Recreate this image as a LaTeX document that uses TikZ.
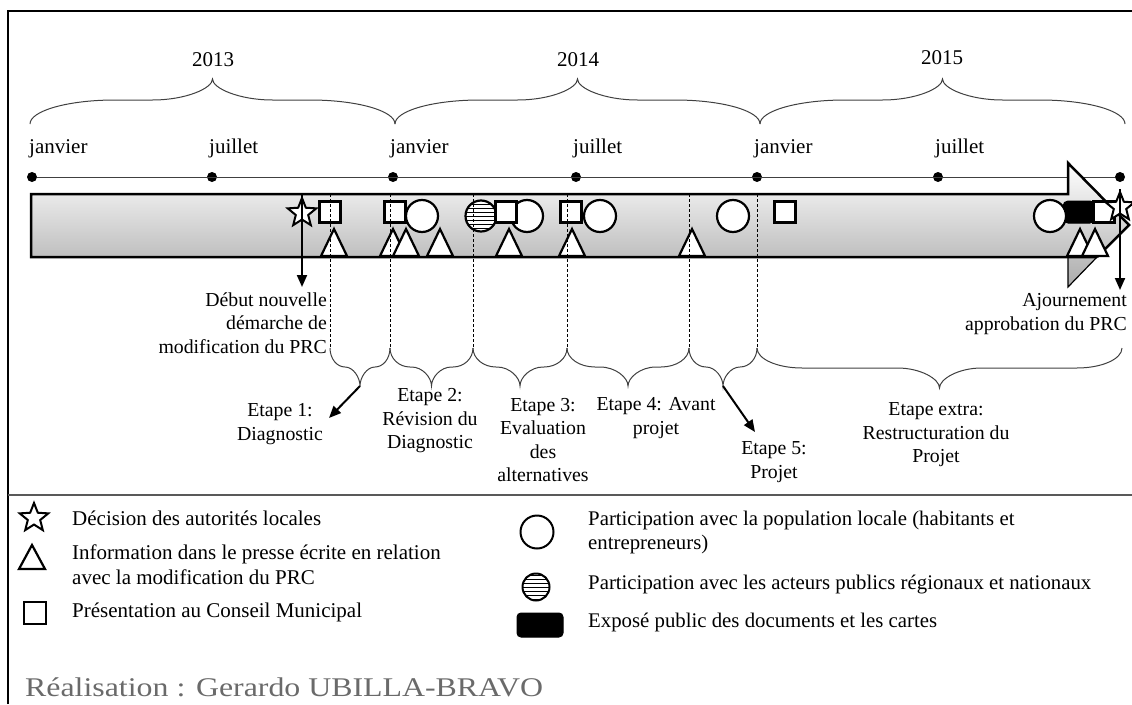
\documentclass[tikz,border=0pt]{standalone}
\usepackage{fontspec}
\setmainfont{Liberation Serif}
\newfontfamily\realfont[FakeStretch=1.18]{Liberation Serif}
\usetikzlibrary{shapes.geometric,arrows.meta}
\definecolor{realgray}{HTML}{6A6A6A}
\newcommand{\mybrace}[7]{%
  \draw[brc] (#1,#3) .. controls (#1,{#3+0.552*(#4-#3)}) and ({#1+0.448*#6},#4) .. ({#1+#6},#4)
    -- ({(#1+#2)/2-#7},#4)
    .. controls ({(#1+#2)/2-0.448*#7},#4) and ({(#1+#2)/2},{#4+0.552*(#5-#4)}) .. ({(#1+#2)/2},#5)
    .. controls ({(#1+#2)/2},{#4+0.552*(#5-#4)}) and ({(#1+#2)/2+0.448*#7},#4) .. ({(#1+#2)/2+#7},#4)
    -- ({#2-#6},#4)
    .. controls ({#2-0.448*#6},#4) and (#2,{#3+0.552*(#4-#3)}) .. (#2,#3);}
\begin{document}
\begin{tikzpicture}[x=1pt,y=-1pt,
  mk/.style={draw=black,line width=2.2pt,fill=white,inner sep=0pt},
  sq/.style={mk,rectangle,minimum size=21pt},
  circ/.style={mk,circle,minimum size=32pt},
  hcirc/.style={mk,circle,minimum size=31pt,path picture={\foreach \k in {-12,-8,...,12}{\draw[line width=0.6pt] ([yshift=\k pt]path picture bounding box.west) -- ([yshift=\k pt]path picture bounding box.east);}}},
  strmk/.style={mk,line width=2pt,star,star points=5,star point ratio=2.3,minimum size=30pt},
  expo/.style={fill=black,draw=black,line width=1pt,rounded corners=5pt,minimum width=32pt,minimum height=22pt,inner sep=0pt},
  dot/.style={circle,fill=black,inner sep=0pt,minimum size=10pt},
  month/.style={anchor=base west,font=\fontsize{21}{24}\selectfont,inner sep=0pt},
  year/.style={font=\fontsize{21}{24}\selectfont,inner sep=0pt},
  etape/.style={align=center,font=\fontsize{19.8}{23.5}\selectfont,inner sep=0pt},
  legtext/.style={anchor=west,align=left,inner sep=0pt},
  brc/.style={line width=1pt,draw=black!75},
  vdashed/.style={line width=0.9pt,dash pattern=on 3pt off 2pt},
  arr/.style={line width=2pt,-{Triangle[width=10pt,length=12pt]}},
  trimark/.pic={\draw[line width=2.2pt,fill=white] (-13,0) -- (0,-27) -- (13,0) -- cycle;},
  trileg/.pic={\draw[line width=2.2pt,fill=white] (-13,0) -- (0,-24) -- (13,0) -- cycle;}
]
\useasboundingbox (0,0) rectangle (1132,704);
% frame
\draw[line width=2pt] (8,704) -- (8,11) -- (1132,11);
\draw[line width=1.5pt,black!65] (8,495) -- (1132,495);
% years and braces
\node[year] (y13) at (213,60) {2013};
\node[year] (y14) at (578,60) {2014};
\node[year] (y15) at (942,58) {2015};
\mybrace{30}{395}{124}{100}{79}{85}{60}
\mybrace{395}{760}{124}{100}{79}{85}{60}
\mybrace{760}{1125}{124}{100}{79}{85}{60}
% timeline
\foreach \x/\n in {32/d1,212/d2,393/d3,576/d4,757/d5,938/d6,1120/d7}
  \node[dot] (\n) at (\x,177) {};
\draw[line width=1pt,black!75] (d1) -- (d7);
\node[month] (m1) at (29,153) {janvier};
\node[month] (m2) at (209,153) {juillet};
\node[month] (m3) at (390,153) {janvier};
\node[month] (m4) at (573,153) {juillet};
\node[month] (m5) at (754,153) {janvier};
\node[month] (m6) at (935,153) {juillet};
% band arrow
\shade[top color=white,bottom color=black!33] (31,194) -- (1068,194) -- (1068,163) -- (1129,225) -- (1068,287) -- (1068,257) -- (31,257) -- cycle;
\draw[line width=2.5pt] (1097,257) -- (31,257) -- (31,194) -- (1068,194) -- (1068,163) -- (1129,225) -- (1097,257);
\draw[line width=1.2pt] (1097,257) -- (1068,287) -- (1068,257);
% markers
\foreach \x in {334,393,406,440,509,572,692,1080,1095}
  \pic at (\x,256) {trimark};
\node[expo] (ex1) at (1079,212) {};
\foreach \x/\n in {422/c1,527/c2,600/c3,733/c4,1050/c5}
  \node[circ] (\n) at (\x,216) {};
\node[hcirc] (h1) at (481,216) {};
\foreach \x/\n in {330/s1,395/s2,506/s3,571/s4,785/s5,1104/s6}
  \node[sq] (\n) at (\x,212) {};
\node[strmk] (st1) at (302,213) {};
\node[strmk] (st2) at (1120,207) {};
% dashed guides
\foreach \x in {330,390,473,567,689,757}
  \draw[vdashed] (\x,194) -- (\x,348);
% lower braces
\mybrace{330}{390}{348}{367}{386}{15}{15}
\mybrace{390}{473}{348}{367}{386}{20}{20}
\mybrace{473}{567}{348}{367}{386}{23}{23}
\mybrace{567}{689}{348}{367}{386}{28}{28}
\mybrace{689}{757}{348}{367}{386}{17}{17}
\mybrace{757}{1122}{348}{368}{388}{45}{42}
% labels
\node[etape,align=right,anchor=east] (db) at (327,323) {Début nouvelle\\démarche de\\modification du PRC};
\node[etape,align=right,anchor=east] (aj) at (1127,314) {Ajournement\\approbation du PRC};
\node[etape] (e1) at (280,424) {Etape 1:\\Diagnostic};
\node[etape] (e2) at (430,421) {Etape 2:\\Révision du\\Diagnostic};
\node[etape] (e3) at (543,440) {Etape 3:\\Evaluation\\des\\alternatives};
\node[etape] (e4) at (656,418) {Etape 4: Avant\\projet};
\node[etape] (e5) at (774,462) {Etape 5:\\Projet};
\node[etape] (ex) at (936,435) {Etape extra:\\Restructuration du\\Projet};
% arrows
\coordinate (a1) at (302,287);
\coordinate (a2) at (1120,290);
\coordinate (t1) at (360,386);
\coordinate (t1e) at (329,418);
\coordinate (t5) at (723,386);
\coordinate (t5e) at (755,432);
\draw[arr] (st1.north) -- (a1);
\draw[arr] (st2.north) -- (a2);
\draw[arr] (t1) -- (t1e);
\draw[arr] (t5) -- (t5e);
% legend
\node[strmk] (ls) at (34,518) {};
\pic at (32,569) {trileg};
\node[mk,rectangle,minimum size=22pt] (lq) at (35,613) {};
\node[legtext,font=\fontsize{21}{24}\selectfont] (lt1) at (72,518) {Décision des autorités locales};
\node[legtext,font=\fontsize{21}{25}\selectfont] (lt2) at (72,565) {Information dans le presse écrite en relation\\avec la modification du PRC};
\node[legtext,font=\fontsize{21}{24}\selectfont] (lt3) at (72,612) {Présentation au Conseil Municipal};
\node[mk,circle,minimum size=33pt,line width=2pt] (lc) at (537,532) {};
\node[hcirc,minimum size=27pt,line width=2pt] (lh) at (536,587) {};
\node[expo,minimum width=46pt,minimum height=24pt,rounded corners=4pt] (le) at (540,625) {};
\node[legtext,font=\fontsize{20.8}{24}\selectfont] (rt1) at (588,532) {Participation avec la population locale (habitants et\\entrepreneurs)};
\node[legtext,font=\fontsize{20.8}{23}\selectfont] (rt2) at (588,585) {Participation avec les acteurs publics régionaux et nationaux};
\node[legtext,font=\fontsize{20.8}{23}\selectfont] (rt3) at (588,622) {Exposé public des documents et les cartes};
\node[legtext,font=\realfont\fontsize{27}{30}\selectfont,text=realgray] (real) at (25,687) {Réalisation : Gerardo UBILLA-BRAVO};
\end{tikzpicture}
\end{document}
